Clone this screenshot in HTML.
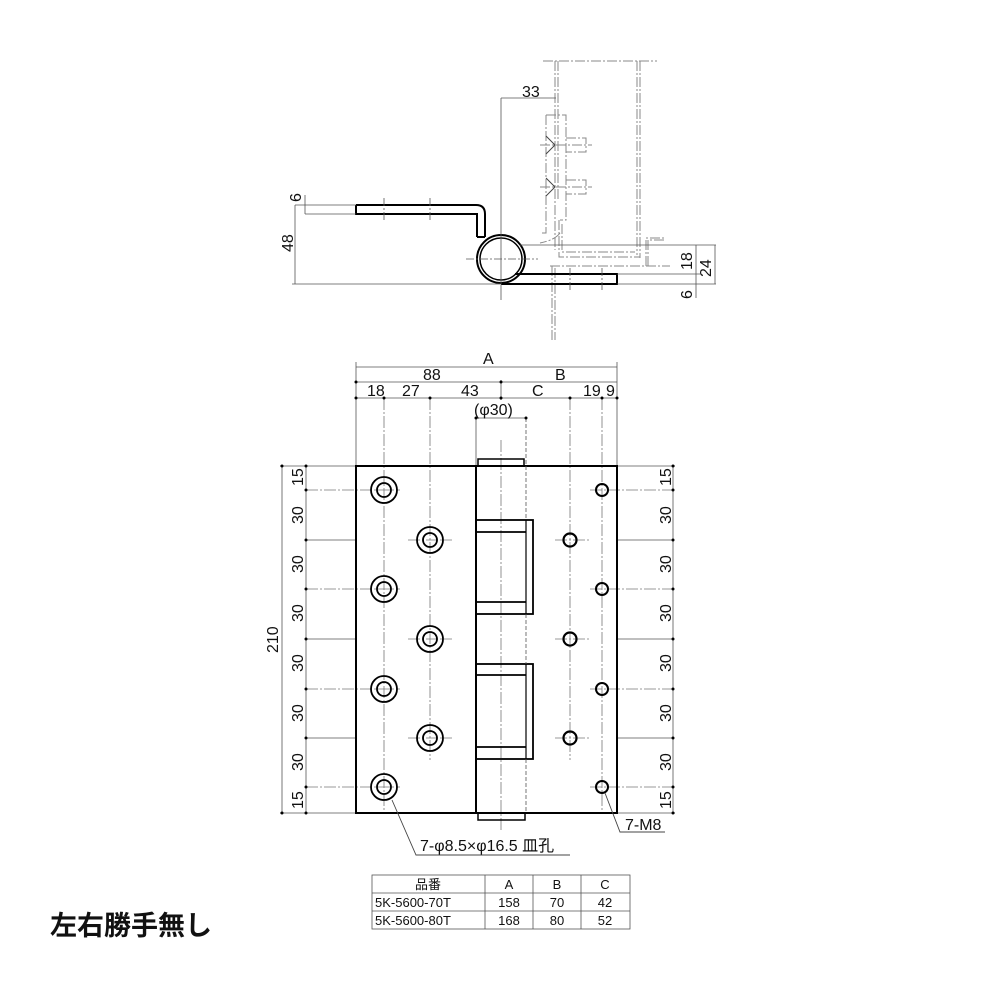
<!DOCTYPE html>
<html><head><meta charset="utf-8"><style>
html,body{margin:0;padding:0;background:#fff;}
svg{display:block;}
text{font-family:"Liberation Sans","Noto Sans CJK JP",sans-serif;fill:#111;}
</style></head><body>
<svg width="1000" height="1000" viewBox="0 0 1000 1000" xmlns="http://www.w3.org/2000/svg">
<g fill="none" stroke-linecap="butt">
<g stroke="#888" stroke-width="1" stroke-dasharray="10,2,2,2">
<line x1="543" y1="61" x2="657" y2="61"/>
<line x1="555" y1="61" x2="555" y2="250"/>
<line x1="558" y1="61" x2="558" y2="200"/>
<line x1="637" y1="61" x2="637" y2="255"/>
<line x1="640" y1="61" x2="640" y2="258"/>
<path d="M559 220 V257 H640"/>
<path d="M562 224 V252 H635"/>
<path d="M550 266 H670"/>
<path d="M552 266 V340"/>
<path d="M555 268 V340"/>
<path d="M646 266 V238 H665"/>
<path d="M648 266 V240 H665"/>
<path d="M546 115 V233 H540"/>
<path d="M546 115 H566 V220 H560"/>
<path d="M560 233 Q555 240 540 243"/>
<line x1="540" y1="145" x2="592" y2="145"/>
<line x1="540" y1="187" x2="592" y2="187"/>
<path d="M566 138 H586 V152 H566"/>
<path d="M566 180 H586 V194 H566"/>
</g>
<g stroke="#444" stroke-width="1">
<path d="M546 136 L555 145 L546 154"/>
<path d="M546 178 L555 187 L546 196"/>
</g>
<g stroke="#000" stroke-width="2">
<path d="M356 205 H476 Q485 205 485 214 V237"/>
<path d="M356 205 V214 H477 V237"/>
<path d="M477 237 H485"/>
<circle cx="501" cy="259" r="24"/>
<circle cx="501" cy="259" r="21" stroke-width="1.5"/>
<path d="M515 274 H617 V284 H501"/>
</g>
<g stroke="#555" stroke-width="0.8" stroke-dasharray="8,2,2,2">
<line x1="384" y1="198" x2="384" y2="222"/>
<line x1="430" y1="198" x2="430" y2="222"/>
<line x1="466" y1="259" x2="538" y2="259"/>
<line x1="570" y1="268" x2="570" y2="292"/>
<line x1="602" y1="268" x2="602" y2="292"/>
</g>
<g stroke="#555" stroke-width="0.8">
<line x1="295" y1="205" x2="356" y2="205"/>
<line x1="305" y1="214" x2="356" y2="214"/>
<line x1="292" y1="284" x2="500" y2="284"/>
<line x1="295" y1="205" x2="295" y2="284"/>
<line x1="305" y1="195" x2="305" y2="214"/>
<line x1="501" y1="98" x2="501" y2="300"/>
<line x1="501" y1="98" x2="556" y2="98"/>
<line x1="520" y1="245" x2="716" y2="245"/>
<line x1="617" y1="274" x2="700" y2="274"/>
<line x1="617" y1="284" x2="716" y2="284"/>
<line x1="696" y1="245" x2="696" y2="298"/>
<line x1="715" y1="245" x2="715" y2="284"/>
</g>
<text x="522" y="97" font-size="16">33</text>
<text transform="translate(301,202) rotate(-90)" font-size="16">6</text>
<text transform="translate(293,252) rotate(-90)" font-size="16">48</text>
<text transform="translate(692,270) rotate(-90)" font-size="16">18</text>
<text transform="translate(711,277) rotate(-90)" font-size="16">24</text>
<text transform="translate(692,299) rotate(-90)" font-size="16">6</text>

<g stroke="#555" stroke-width="0.8">
<line x1="356" y1="367" x2="617" y2="367"/>
<line x1="356" y1="382" x2="617" y2="382"/>
<line x1="356" y1="398" x2="617" y2="398"/>
<line x1="356" y1="362" x2="356" y2="466"/>
<line x1="617" y1="362" x2="617" y2="466"/>
<line x1="501" y1="380" x2="501" y2="400"/>
<line x1="476" y1="418" x2="526" y2="418"/>
<line x1="476" y1="418" x2="476" y2="466"/>
<line x1="526" y1="418" x2="526" y2="466" stroke-dasharray="4,2"/>
<line x1="282" y1="466" x2="282" y2="813"/>
<line x1="306" y1="466" x2="306" y2="813"/>
<line x1="280" y1="466" x2="356" y2="466"/>
<line x1="280" y1="813" x2="356" y2="813"/>
<line x1="306" y1="540" x2="356" y2="540"/>
<line x1="306" y1="639" x2="356" y2="639"/>
<line x1="306" y1="738" x2="356" y2="738"/>
<line x1="673" y1="466" x2="673" y2="813"/>
<line x1="617" y1="466" x2="675" y2="466"/>
<line x1="617" y1="813" x2="675" y2="813"/>
<line x1="617" y1="540" x2="673" y2="540"/>
<line x1="617" y1="639" x2="673" y2="639"/>
<line x1="617" y1="738" x2="673" y2="738"/>
</g>
<g stroke="#777" stroke-width="0.8" stroke-dasharray="12,2,2,2">
<line x1="384" y1="398" x2="384" y2="810"/>
<line x1="430" y1="398" x2="430" y2="760"/>
<line x1="570" y1="398" x2="570" y2="760"/>
<line x1="602" y1="398" x2="602" y2="810"/>
<line x1="501" y1="440" x2="501" y2="830"/>
<line x1="306" y1="490" x2="400" y2="490"/>
<line x1="306" y1="589" x2="400" y2="589"/>
<line x1="306" y1="689" x2="400" y2="689"/>
<line x1="306" y1="787" x2="400" y2="787"/>
<line x1="590" y1="490" x2="673" y2="490"/>
<line x1="590" y1="589" x2="673" y2="589"/>
<line x1="590" y1="689" x2="673" y2="689"/>
<line x1="590" y1="787" x2="673" y2="787"/>
<line x1="408" y1="540" x2="452" y2="540"/>
<line x1="408" y1="639" x2="452" y2="639"/>
<line x1="408" y1="738" x2="452" y2="738"/>
<line x1="555" y1="540" x2="590" y2="540"/>
<line x1="555" y1="639" x2="590" y2="639"/>
<line x1="555" y1="738" x2="590" y2="738"/>
</g>
<g fill="#000" stroke="none">
<circle cx="356" cy="382" r="1.5"/><circle cx="501" cy="382" r="1.5"/>
<circle cx="356" cy="398" r="1.5"/><circle cx="384" cy="398" r="1.5"/><circle cx="430" cy="398" r="1.5"/><circle cx="501" cy="398" r="1.5"/><circle cx="570" cy="398" r="1.5"/><circle cx="602" cy="398" r="1.5"/><circle cx="617" cy="398" r="1.5"/>
<circle cx="476" cy="418" r="1.5"/><circle cx="526" cy="418" r="1.5"/>
<circle cx="282" cy="466" r="1.5"/><circle cx="282" cy="813" r="1.5"/>
<circle cx="306" cy="466" r="1.5"/><circle cx="306" cy="490" r="1.5"/><circle cx="306" cy="540" r="1.5"/><circle cx="306" cy="589" r="1.5"/><circle cx="306" cy="639" r="1.5"/><circle cx="306" cy="689" r="1.5"/><circle cx="306" cy="738" r="1.5"/><circle cx="306" cy="787" r="1.5"/><circle cx="306" cy="813" r="1.5"/>
<circle cx="673" cy="466" r="1.5"/><circle cx="673" cy="490" r="1.5"/><circle cx="673" cy="540" r="1.5"/><circle cx="673" cy="589" r="1.5"/><circle cx="673" cy="639" r="1.5"/><circle cx="673" cy="689" r="1.5"/><circle cx="673" cy="738" r="1.5"/><circle cx="673" cy="787" r="1.5"/><circle cx="673" cy="813" r="1.5"/>
</g>
<g stroke="#000" stroke-width="2">
<rect x="356" y="466" width="261" height="347"/>
<line x1="476" y1="466" x2="476" y2="813"/>
<rect x="478" y="459" width="46" height="7" stroke-width="1.5"/>
<rect x="478" y="813" width="47" height="7" stroke-width="1.5"/>
<rect x="476" y="520" width="57" height="94" stroke-width="1.8"/>
<line x1="476" y1="532" x2="526" y2="532" stroke-width="1.8"/>
<line x1="476" y1="602" x2="526" y2="602" stroke-width="1.8"/>
<line x1="526" y1="520" x2="526" y2="614" stroke-width="1.2"/>
<rect x="476" y="664" width="57" height="95" stroke-width="1.8"/>
<line x1="476" y1="675" x2="526" y2="675" stroke-width="1.8"/>
<line x1="476" y1="747" x2="526" y2="747" stroke-width="1.8"/>
<line x1="526" y1="664" x2="526" y2="759" stroke-width="1.2"/>
</g>
<line x1="526" y1="466" x2="526" y2="520" stroke="#555" stroke-width="0.8" stroke-dasharray="4,2"/>
<line x1="526" y1="614" x2="526" y2="664" stroke="#555" stroke-width="0.8" stroke-dasharray="4,2"/>
<line x1="526" y1="759" x2="526" y2="813" stroke="#555" stroke-width="0.8" stroke-dasharray="4,2"/>
<g stroke="#000" stroke-width="1.8">
<circle cx="384" cy="490" r="13"/><circle cx="384" cy="490" r="7"/>
<circle cx="384" cy="589" r="13"/><circle cx="384" cy="589" r="7"/>
<circle cx="384" cy="689" r="13"/><circle cx="384" cy="689" r="7"/>
<circle cx="384" cy="787" r="13"/><circle cx="384" cy="787" r="7"/>
<circle cx="430" cy="540" r="13"/><circle cx="430" cy="540" r="7"/>
<circle cx="430" cy="639" r="13"/><circle cx="430" cy="639" r="7"/>
<circle cx="430" cy="738" r="13"/><circle cx="430" cy="738" r="7"/>
<circle cx="602" cy="490" r="6" stroke-width="2"/>
<circle cx="602" cy="589" r="6" stroke-width="2"/>
<circle cx="602" cy="689" r="6" stroke-width="2"/>
<circle cx="602" cy="787" r="6" stroke-width="2"/>
<circle cx="570" cy="540" r="6.5" stroke-width="2.2"/>
<circle cx="570" cy="639" r="6.5" stroke-width="2.2"/>
<circle cx="570" cy="738" r="6.5" stroke-width="2.2"/>
</g>
<g stroke="#444" stroke-width="0.9">
<path d="M392 800 L416 855 H570"/>
<path d="M605 793 L620 832 H665"/>
</g>
</g>
<g font-size="16">
<text x="483" y="364">A</text>
<text x="423" y="380">88</text>
<text x="555" y="380">B</text>
<text x="367" y="396">18</text>
<text x="402" y="396">27</text>
<text x="461" y="396">43</text>
<text x="532" y="396">C</text>
<text x="583" y="396">19</text>
<text x="606" y="396">9</text>
<text x="474" y="415">(φ30)</text>
<text transform="translate(278,653) rotate(-90)">210</text>
<text transform="translate(303,486) rotate(-90)">15</text>
<text transform="translate(303,524) rotate(-90)">30</text>
<text transform="translate(303,573) rotate(-90)">30</text>
<text transform="translate(303,622) rotate(-90)">30</text>
<text transform="translate(303,672) rotate(-90)">30</text>
<text transform="translate(303,722) rotate(-90)">30</text>
<text transform="translate(303,771) rotate(-90)">30</text>
<text transform="translate(303,809) rotate(-90)">15</text>
<text transform="translate(671,486) rotate(-90)">15</text>
<text transform="translate(671,524) rotate(-90)">30</text>
<text transform="translate(671,573) rotate(-90)">30</text>
<text transform="translate(671,622) rotate(-90)">30</text>
<text transform="translate(671,672) rotate(-90)">30</text>
<text transform="translate(671,722) rotate(-90)">30</text>
<text transform="translate(671,771) rotate(-90)">30</text>
<text transform="translate(671,809) rotate(-90)">15</text>
<text x="420" y="851">7-φ8.5×φ16.5 皿孔</text>
<text x="625" y="830">7-M8</text>
</g>
<g fill="none" stroke="#555" stroke-width="0.8">
<rect x="372" y="875" width="258" height="54"/>
<line x1="372" y1="893" x2="630" y2="893"/>
<line x1="372" y1="911" x2="630" y2="911"/>
<line x1="485" y1="875" x2="485" y2="929"/>
<line x1="533" y1="875" x2="533" y2="929"/>
<line x1="581" y1="875" x2="581" y2="929"/>
</g>
<g font-size="13" text-anchor="middle">
<text x="428" y="889">品番</text><text x="509" y="889">A</text><text x="557" y="889">B</text><text x="605" y="889">C</text>
<text x="509" y="907">158</text><text x="557" y="907">70</text><text x="605" y="907">42</text>
<text x="509" y="925">168</text><text x="557" y="925">80</text><text x="605" y="925">52</text>
</g>
<text x="375" y="907" font-size="13">5K-5600-70T</text>
<text x="375" y="925" font-size="13">5K-5600-80T</text>
<text x="50" y="935" font-size="27" font-weight="bold">左右勝手無し</text>
</svg>
</body></html>
